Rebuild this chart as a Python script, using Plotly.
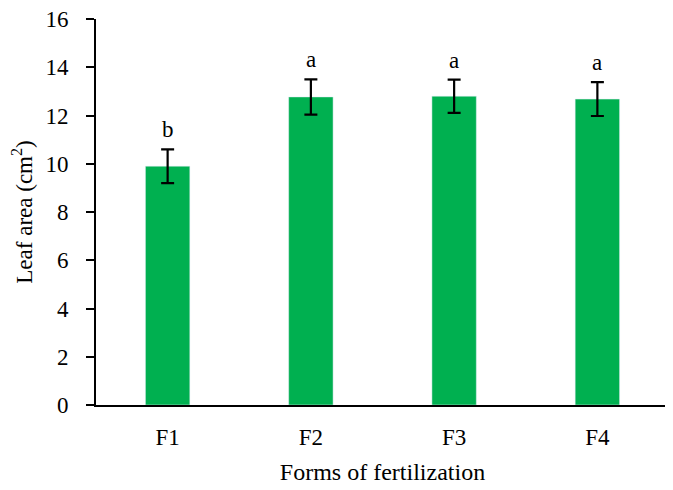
import plotly.graph_objects as go

forms = ['F1', 'F2', 'F3', 'F4']
leaf_area = [9.9, 12.77, 12.8, 12.68]
leaf_err = [0.7, 0.73, 0.69, 0.7]
letters = ['b', 'a', 'a', 'a']

font = 'Liberation Serif, Times New Roman, serif'

fig = go.Figure()
fig.add_trace(go.Bar(
    x=forms, y=leaf_area,
    marker_color='#00B050',
    width=0.31,
    error_y=dict(type='data', array=leaf_err, color='black', thickness=2.2, width=6.5),
))

# significance letters above the error bars
for f, v, e, t in zip(forms, leaf_area, leaf_err, letters):
    fig.add_annotation(x=f, y=v + e, text=t, showarrow=False,
                       yanchor='bottom', yshift=5,
                       font=dict(family=font, size=23, color='black'))

# page body has an 8px margin, so size the figure to fit the window
fig.update_layout(
    width=665, height=482,
    margin=dict(l=88, r=4, t=11, b=85),
    plot_bgcolor='white', paper_bgcolor='white',
    showlegend=False,
    font=dict(family=font, size=23, color='black'),
    xaxis=dict(
        type='category', automargin=False,
        showline=True, linecolor='black', linewidth=2,
        ticks='', ticklabelstandoff=10,
        tickfont=dict(size=23),
        title=dict(text='Forms of fertilization', font=dict(size=24), standoff=15),
    ),
    yaxis=dict(
        range=[0, 16], dtick=2, automargin=False,
        showgrid=False, zeroline=False,
        showline=True, linecolor='black', linewidth=2,
        ticks='outside', ticklen=8, tickwidth=2, tickcolor='black',
        ticklabelstandoff=13, ticklabeloverflow='allow',
        tickfont=dict(size=23),
        title=dict(text='Leaf area (cm<sup>2</sup>)', font=dict(size=23), standoff=7),
    ),
)

fig.write_html("out.html")
